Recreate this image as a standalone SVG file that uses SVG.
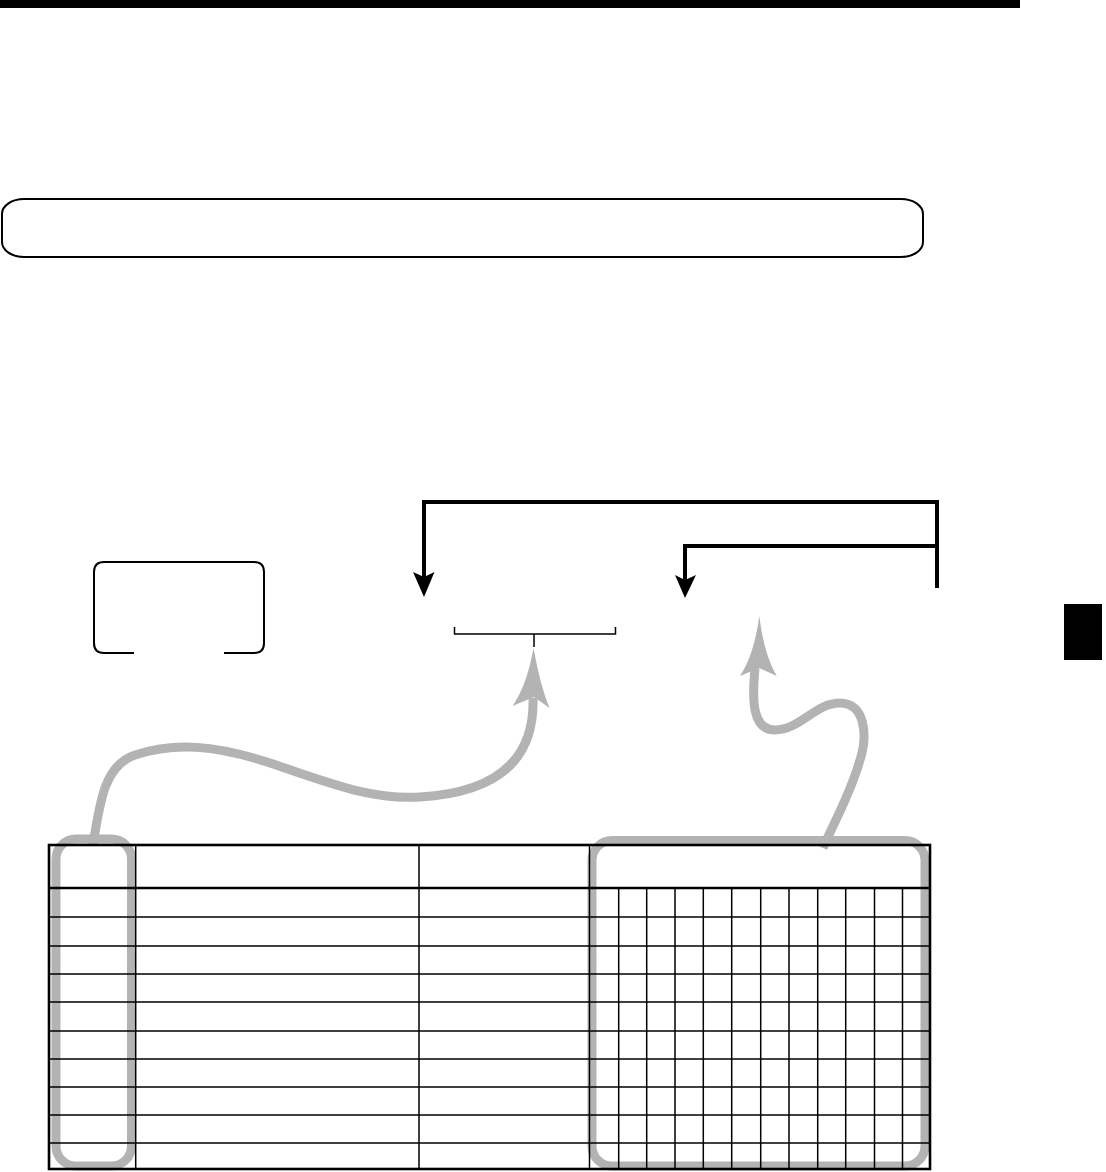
<svg xmlns="http://www.w3.org/2000/svg" width="1106" height="1172" viewBox="0 0 1106 1172">
<style>
.blk{fill:none;stroke:#000;stroke-width:4;stroke-linejoin:miter}
.gry{fill:none;stroke:#b3b3b3;stroke-width:9}
.ah{fill:#000;stroke:none}
.gah{fill:#b3b3b3;stroke:none}
.thin{fill:none;stroke:#000;stroke-width:1.5}
.bord{fill:none;stroke:#000;stroke-width:2.6}
</style>
<rect id="top-bar" x="0" y="0" width="1020" height="8" fill="#000"/>
<rect id="tab" x="1064" y="604" width="38" height="56" fill="#000"/>
<g id="banner"><rect x="2" y="199" width="921" height="58" rx="22" ry="15" fill="none" stroke="#000" stroke-width="2"/></g>
<g id="key-box"><path d="M134,653 H104 Q94,653 94,643 V572 Q94,562 104,562 H254 Q264,562 264,572 V643 Q264,653 254,653 H224" fill="none" stroke="#000" stroke-width="2"/></g>
<g id="bracket"><path class="thin" d="M454.5,627 V634 H615.5 V627 M534,634 V647"/></g>
<g id="gray-boxes">
<rect x="56" y="839" width="75.5" height="327" rx="20" class="gry"/>
<rect x="592" y="840.5" width="333" height="325.5" rx="20" class="gry"/>
</g>
<g id="connectors">
<path class="blk" d="M937,588 V502 H424 V578"/>
<polygon class="ah" points="424,597 413,572 424,577 434.5,572"/>
<path class="blk" d="M937,546 H685 V580"/>
<polygon class="ah" points="685,598 675,575 685,580 696,575"/>
<path class="gry" d="M93,845 C100,800 105,765 135,755 C175,742 215,745 270,763 C330,783 370,800 420,797 C490,793 535,765 533,698"/>
<path class="gah" d="M533.5,648 Q527,685 512.5,706 L534,697 L549.5,708 Q540,685 533.5,648 Z"/>
<path class="gry" d="M755,668 C752,700 752,730 775,730 C800,730 815,703 840,703 C865,703 868,735 860,760 C850,795 835,820 823,848"/>
<path class="gah" d="M759.3,616 Q754,655 740,676 L759,668 L776.7,676 Q764,655 759.3,616 Z"/>
</g>
<g id="table">
<path class="thin" d="M49,917 H930 M49,946 H930 M49,974 H930 M49,1002 H930 M49,1031 H930 M49,1059 H930 M49,1087 H930 M49,1115 H930 M49,1143 H930"/>
<path class="thin" d="M135.7,845 V1169 M419,845 V1169 M589.5,845 V1169"/>
<path class="thin" d="M618.7,888 V1169 M646.7,888 V1169 M675,888 V1169 M703.3,888 V1169 M731.7,888 V1169 M760.7,888 V1169 M789,888 V1169 M817.7,888 V1169 M845.7,888 V1169 M874.5,888 V1169 M902.5,888 V1169"/>
<path class="bord" d="M49,888 H930"/>
<rect class="bord" x="49" y="845" width="881" height="324"/>
</g>
</svg>
